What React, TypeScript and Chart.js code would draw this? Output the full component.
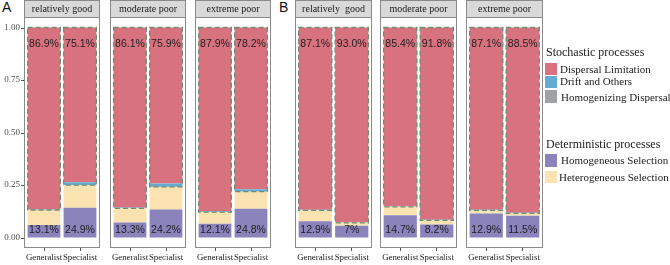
import React, { useEffect, useRef } from "react";
import { Chart, registerables } from "chart.js";

Chart.register(...registerables);

// ---- data -------------------------------------------------------------
const groups = ["Generalist", "Specialist"];
const conditionsA = ["relatively good", "moderate poor", "extreme poor"];
const conditionsB = ["relatively  good", "moderate poor", "extreme poor"];

// stochastic share (%), top label; bars are stacked from it
const stochasticA = [[86.9, 75.1], [86.1, 75.9], [87.9, 78.2]];
const stochasticB = [[87.1, 93.0], [85.4, 91.8], [87.1, 88.5]];
// deterministic share (%), bottom label
const deterministicA = [[13.1, 24.9], [13.3, 24.2], [12.1, 24.8]];
const deterministicB = [[12.9, 7], [14.7, 8.2], [12.9, 11.5]];
// homogeneous selection (%)
const homSelA = [[5.9, 14.2], [7.1, 13.3], [6.5, 13.7]];
const homSelB = [[7.7, 5.6], [10.6, 6.2], [11.4, 10.3]];
// drift and others (%)
const driftA = [[0.3, 1.3], [0.3, 1.5], [0.3, 1.1]];
const driftB = [[0.2, 0.2], [0.2, 0.2], [0.2, 0.2]];
// homogenizing dispersal (%)
const homDispA = [[0.1, 0.1], [0.1, 0.1], [0.1, 0.1]];
const homDispB = [[0.1, 0.1], [0.1, 0.1], [0.1, 0.1]];

const yTicks = [0, 0.25, 0.5, 0.75, 1];

// ---- style ------------------------------------------------------------
const COLORS = {
  dispersalLimitation: "#D9727F",
  drift: "#64AAD2",
  homDisp: "#9FA3A3",
  homSel: "#8B83BC",
  hetSel: "#FAE3B0",
};
const SERIF = '"Liberation Serif", Tinos, "Times New Roman", "Nimbus Roman", "DejaVu Serif", serif';
const SANS = '"Liberation Sans", Arimo, Arial, sans-serif';
const FRAME = "#8a8a8a";
const STRIP_H = 17;
const H = 265;
const INSET = 2; // gap between the panel frame and the category band

type FacetProps = {
  left: number;
  right: number;
  title: string;
  stochastic: number[];
  deterministic: number[];
  homSel: number[];
  drift: number[];
  homDisp: number[];
  showY: boolean;
};

const facetDecor = {
  id: "facetDecor",
  beforeDatasetsDraw(chart: any, _args: any, opts: any) {
    const { ctx, chartArea } = chart;
    const left = chartArea.left - INSET;
    const right = chartArea.right + INSET;
    ctx.save();
    // strip
    ctx.fillStyle = "#d9d9d9";
    ctx.fillRect(left, 0.5, right - left, STRIP_H);
    ctx.strokeStyle = FRAME;
    ctx.lineWidth = 1;
    ctx.strokeRect(left + 0.5, 0.5, right - left - 1, STRIP_H);
    ctx.fillStyle = "#1a1a1a";
    ctx.font = `10px ${SERIF}`;
    ctx.textAlign = "center";
    ctx.textBaseline = "middle";
    ctx.fillText(opts.title, (left + right) / 2, STRIP_H / 2 + 1);
    ctx.restore();
  },
  afterDatasetsDraw(chart: any, _args: any, opts: any) {
    const { ctx, chartArea, scales } = chart;
    const y = scales.y;
    const meta = chart.getDatasetMeta(chart.data.datasets.length - 1);
    ctx.save();
    meta.data.forEach((el: any, i: number) => {
      const w = el.width;
      const x0 = el.x - w / 2;
      const yTop = y.getPixelForValue(1);
      const yBot = y.getPixelForValue(1 - opts.stochastic[i] / 100);
      // dashed outline around the stochastic part of the bar
      ctx.setLineDash([5, 3]);
      ctx.lineWidth = 1.3;
      ctx.strokeStyle = "#6f8c72";
      ctx.strokeRect(x0, yTop, w, yBot - yTop);
      ctx.setLineDash([]);
      // share labels
      ctx.fillStyle = "#1e1e1e";
      ctx.font = `10.5px ${SANS}`;
      ctx.textAlign = "center";
      ctx.textBaseline = "middle";
      ctx.fillText(opts.stochastic[i].toFixed(1) + "%", el.x, y.getPixelForValue(0.92));
      ctx.fillText(String(opts.deterministic[i]) + "%", el.x, y.getPixelForValue(0.035));
    });
    // panel frame
    const left = chartArea.left - INSET;
    const right = chartArea.right + INSET;
    ctx.strokeStyle = FRAME;
    ctx.lineWidth = 1;
    ctx.strokeRect(left + 0.5, chartArea.top + 0.5, right - left - 1, chartArea.bottom - chartArea.top - 1);
    // y tick marks on the outer side of the frame
    if (opts.showY) {
      ctx.strokeStyle = "#555";
      ctx.beginPath();
      yTicks.forEach((v) => {
        const py = Math.round(y.getPixelForValue(v)) + 0.5;
        ctx.moveTo(left - 3, py);
        ctx.lineTo(left, py);
      });
      ctx.stroke();
    }
    ctx.restore();
  },
};

function Facet(p: FacetProps) {
  const ref = useRef<HTMLCanvasElement | null>(null);
  const yW = p.showY ? 24 + INSET : 0;
  const canvasLeft = p.showY ? p.left - 24 : p.left - 4;
  const padL = p.showY ? 0 : 4 + INSET;
  const padR = 4 + INSET;
  const width = p.right - canvasLeft + 4;

  useEffect(() => {
    if (!ref.current) return;
    const frac = (a: number[]) => a.map((v) => v / 100);
    const hetSel = p.stochastic.map((s, i) => 100 - s - p.homSel[i]);
    const dispLim = p.stochastic.map((s, i) => s - p.drift[i] - p.homDisp[i]);
    const ds = (label: string, data: number[], color: string) => ({
      label,
      data: frac(data),
      backgroundColor: color,
      borderWidth: 0,
      barPercentage: 1,
      categoryPercentage: 0.91,
    });
    const chart = new Chart(ref.current, {
      type: "bar",
      data: {
        labels: groups,
        datasets: [
          ds("Homogeneous Selection", p.homSel, COLORS.homSel),
          ds("Heterogeneous Selection", hetSel, COLORS.hetSel),
          ds("Homogenizing Dispersal", p.homDisp, COLORS.homDisp),
          ds("Drift and Others", p.drift, COLORS.drift),
          ds("Dispersal Limitation", dispLim, COLORS.dispersalLimitation),
        ],
      },
      options: {
        animation: false,
        responsive: false,
        devicePixelRatio: 1,
        layout: { padding: { top: STRIP_H, left: padL, right: padR, bottom: 0 } },
        plugins: {
          legend: { display: false },
          tooltip: { enabled: false },
          facetDecor: {
            title: p.title,
            stochastic: p.stochastic,
            deterministic: p.deterministic,
            showY: p.showY,
          },
        } as any,
        scales: {
          x: {
            stacked: true,
            offset: true,
            grid: {
              display: true,
              offset: false,
              drawOnChartArea: false,
              drawTicks: true,
              tickLength: 3,
              color: "#555",
            },
            border: { display: false },
            ticks: {
              font: { family: SERIF, size: 8.8 },
              color: "#222",
              maxRotation: 0,
              autoSkip: false,
              padding: 1,
            },
            afterFit: (s: any) => {
              s.height = 17;
            },
          },
          y: {
            stacked: true,
            min: -0.05,
            max: 1.05,
            display: p.showY,
            grid: {
              display: false,
              drawTicks: false,
            },
            border: { display: false },
            ticks: {
              font: { family: SERIF, size: 9 },
              color: "#4d4d4d",
              padding: 6,
              callback: (v: any) => Number(v).toFixed(2),
            },
            afterBuildTicks: (s: any) => {
              s.ticks = yTicks.map((value) => ({ value }));
            },
            afterFit: (s: any) => {
              s.width = yW;
            },
          },
        },
      } as any,
      plugins: [facetDecor],
    });
    return () => chart.destroy();
  }, []);

  return (
    <canvas
      ref={ref}
      width={width}
      height={H}
      style={{ position: "absolute", left: canvasLeft, top: 0, width, height: H }}
    />
  );
}

const facetsA = [
  [24, 100],
  [110, 186],
  [195, 271],
];
const facetsB = [
  [295, 372],
  [380, 457],
  [466, 543],
];

function Swatch({ top, color, h = 12 }: { top: number; color: string; h?: number }) {
  return (
    <div
      style={{ position: "absolute", left: 545, top, width: 12, height: h, background: color }}
    />
  );
}

function Text({
  left,
  center,
  size,
  children,
}: {
  left: number;
  center: number;
  size: number;
  children: React.ReactNode;
}) {
  return (
    <div
      style={{
        position: "absolute",
        left,
        top: center - 8,
        height: 16,
        lineHeight: "16px",
        fontFamily: SERIF,
        fontSize: size,
        color: "#1a1a1a",
        whiteSpace: "pre",
      }}
    >
      {children}
    </div>
  );
}

export default function App() {
  return (
    <div
      style={{
        position: "fixed",
        left: 0,
        top: 0,
        width: 670,
        height: H,
        background: "#fff",
        overflow: "hidden",
      }}
    >
      <div style={{ position: "absolute", left: 2, top: -1, fontFamily: SANS, fontSize: 14, color: "#111" }}>
        A
      </div>
      <div style={{ position: "absolute", left: 279, top: -1, fontFamily: SANS, fontSize: 14, color: "#111" }}>
        B
      </div>
      {facetsA.map(([l, r], k) => (
        <Facet
          key={"A" + k}
          left={l}
          right={r}
          title={conditionsA[k]}
          stochastic={stochasticA[k]}
          deterministic={deterministicA[k]}
          homSel={homSelA[k]}
          drift={driftA[k]}
          homDisp={homDispA[k]}
          showY={k === 0}
        />
      ))}
      {facetsB.map(([l, r], k) => (
        <Facet
          key={"B" + k}
          left={l}
          right={r}
          title={conditionsB[k]}
          stochastic={stochasticB[k]}
          deterministic={deterministicB[k]}
          homSel={homSelB[k]}
          drift={driftB[k]}
          homDisp={homDispB[k]}
          showY={false}
        />
      ))}

      <Text left={546} center={52} size={12}>Stochastic processes</Text>
      <Swatch top={63} color={COLORS.dispersalLimitation} />
      <Text left={560} center={69} size={11}>Dispersal Limitation</Text>
      <Swatch top={76} color={COLORS.drift} />
      <Text left={560} center={81} size={11}>Drift and Others</Text>
      <Swatch top={90} color={COLORS.homDisp} h={13} />
      <Text left={561} center={97} size={11}>Homogenizing Dispersal</Text>

      <Text left={546} center={144} size={12}>Deterministic processes</Text>
      <Swatch top={154} color={COLORS.homSel} h={13} />
      <Text left={561} center={160} size={11}>Homogeneous Selection</Text>
      <Swatch top={171} color={COLORS.hetSel} />
      <Text left={559} center={177} size={11}>Heterogeneous Selection</Text>
    </div>
  );
}
